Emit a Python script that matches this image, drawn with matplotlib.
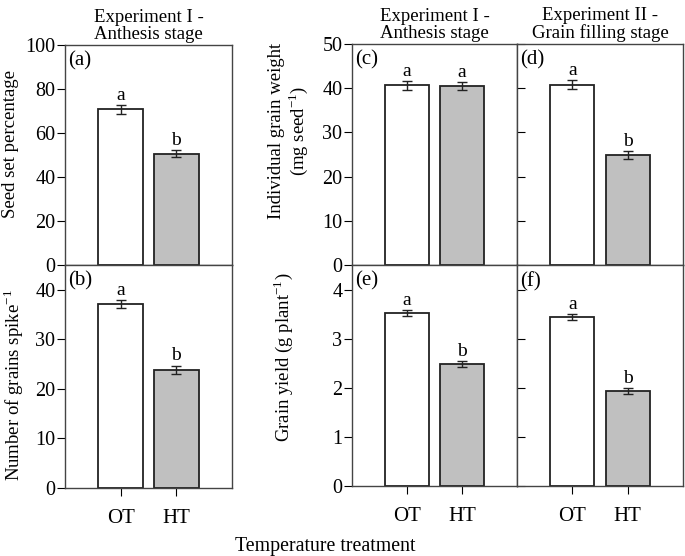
import numpy as np
import matplotlib.pyplot as plt

plt.rcParams['font.family'] = ['Liberation Serif', 'DejaVu Serif']
plt.rcParams['font.size'] = 14
plt.rcParams['mathtext.fontset'] = 'custom'
plt.rcParams['mathtext.rm'] = 'Liberation Serif'

treatments = ['OT', 'HT']

seed_set = [70.8, 50.6]
seed_set_err = [2.1, 1.5]
grains_spike = [37.2, 23.9]
grains_spike_err = [0.8, 0.8]
grain_weight_exp1 = [40.7, 40.5]
grain_weight_exp1_err = [1.0, 0.9]
grain_weight_exp2 = [40.8, 24.9]
grain_weight_exp2_err = [1.0, 0.9]
grain_yield_exp1 = [3.52, 2.48]
grain_yield_exp1_err = [0.06, 0.06]
grain_yield_exp2 = [3.45, 1.93]
grain_yield_exp2_err = [0.06, 0.06]

letters_a = ['a', 'b']
letters_b = ['a', 'b']
letters_c = ['a', 'a']
letters_d = ['a', 'b']
letters_e = ['a', 'b']
letters_f = ['a', 'b']

W, H = 685, 556
fig = plt.figure(figsize=(W / 100, H / 100), dpi=100)


def px_axes(x0, y0, x1, y1):
    return fig.add_axes([x0 / W, 1 - y1 / H, (x1 - x0) / W, (y1 - y0) / H])


def px_text(x, y, s, **kw):
    fig.text(x / W, 1 - y / H, s, ha='center', va='center', **kw)


def draw_panel(ax, vals, errs, letters, ylim, yticks, label, xlabels, yin=False, ylabels=True):
    x = np.arange(1, len(vals) + 1)
    ax.bar(x, vals, width=0.8, color=['white', '#c0c0c0'], edgecolor='#222222', linewidth=1.3, zorder=2)
    ax.errorbar(x, vals, yerr=errs, fmt='none', ecolor='#222222', elinewidth=1.0, capsize=3.5, capthick=1.0, zorder=3)
    span = ylim[1] - ylim[0]
    for xi, v, e, l in zip(x, vals, errs, letters):
        ax.text(xi, v + e + span * 0.005, l, ha='center', va='bottom', fontsize=14)
    ax.set_xlim(0, 3)
    ax.set_ylim(*ylim)
    ax.set_yticks(yticks)
    ax.set_xticks(x)
    if xlabels:
        ax.set_xticklabels(treatments, fontsize=15)
        ax.tick_params(axis='x', pad=9)
    else:
        ax.set_xticklabels([])
    if not ylabels:
        ax.set_yticklabels([])
    ax.tick_params(axis='y', direction='in' if yin else 'out', length=6, labelsize=14.5, pad=1)
    ax.tick_params(axis='x', direction='out', length=6)
    for s in ax.spines.values():
        s.set_color('#444444')
        s.set_linewidth(1.0)
    ax.text(0.02, 0.97, label, transform=ax.transAxes, ha='left', va='top', fontsize=15)


ax_a = px_axes(65, 45, 232, 265)
ax_b = px_axes(65, 265, 232, 488)
ax_c = px_axes(352, 44, 517, 265)
ax_d = px_axes(517, 44, 683, 265)
ax_e = px_axes(352, 265, 517, 486)
ax_f = px_axes(517, 265, 683, 486)

draw_panel(ax_a, seed_set, seed_set_err, letters_a, (0, 100), [0, 20, 40, 60, 80, 100], '(a)', False)
draw_panel(ax_b, grains_spike, grains_spike_err, letters_b, (0, 45), [0, 10, 20, 30, 40], '(b)', True)
draw_panel(ax_c, grain_weight_exp1, grain_weight_exp1_err, letters_c, (0, 50), [0, 10, 20, 30, 40, 50], '(c)', False)
draw_panel(ax_d, grain_weight_exp2, grain_weight_exp2_err, letters_d, (0, 50), [0, 10, 20, 30, 40, 50], '(d)', False, yin=True, ylabels=False)
draw_panel(ax_e, grain_yield_exp1, grain_yield_exp1_err, letters_e, (0, 4.5), [0, 1, 2, 3, 4], '(e)', True)
draw_panel(ax_f, grain_yield_exp2, grain_yield_exp2_err, letters_f, (0, 4.5), [0, 1, 2, 3, 4], '(f)', True, yin=True, ylabels=False)

ax_a.set_title('Experiment I -\nAnthesis stage', fontsize=13.5, pad=4, linespacing=1.05)
ax_c.set_title('Experiment I -\nAnthesis stage', fontsize=13.5, pad=4, linespacing=1.05)
ax_d.set_title('Experiment II -\nGrain filling stage', fontsize=13.5, pad=4, linespacing=1.05)

px_text(11, 144, 'Seed set percentage', rotation=90, fontsize=13.5)
px_text(14, 385, 'Number of grains spike$^{-1}$', rotation=90, fontsize=13.5)
px_text(289, 131, 'Individual grain weight\n(mg seed$^{-1}$)', rotation=90, fontsize=13.5, linespacing=1.1)
px_text(283, 357, 'Grain yield (g plant$^{-1}$)', rotation=90, fontsize=13.5)

px_text(325, 546, 'Temperature treatment', fontsize=14.3)

fig.savefig('out.png', dpi=100)
